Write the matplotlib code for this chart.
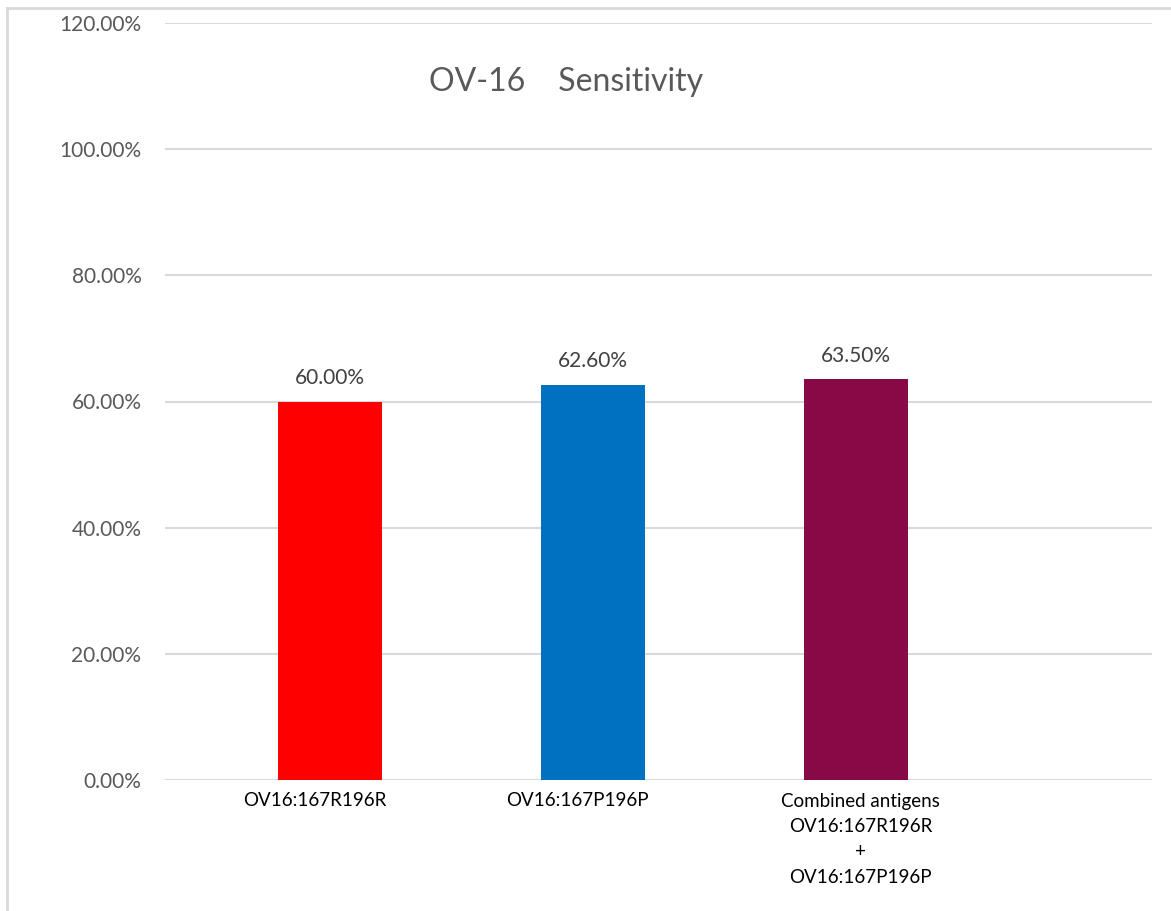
import matplotlib
matplotlib.use("Agg")
import matplotlib.pyplot as plt
from matplotlib.lines import Line2D
from matplotlib.ticker import FuncFormatter
from matplotlib.transforms import ScaledTranslation

categories = ["OV16:167R196R", "OV16:167P196P",
              "Combined antigens\nOV16:167R196R\n+\nOV16:167P196P"]
sensitivity = [60.00, 62.60, 63.50]
bar_colors = ["#FF0000", "#0070C0", "#870A46"]
y_ticks = [0, 20, 40, 60, 80, 100, 120]

plt.rcParams['font.family'] = ['Lato', 'DejaVu Sans']

fig = plt.figure(figsize=(11.71, 9.11), dpi=100)
ax = fig.add_axes([165 / 1171, 1 - 780 / 911, (1152 - 165) / 1171, (780 - 23) / 911])

x = list(range(len(categories)))
ax.bar(x, sensitivity, width=0.395, color=bar_colors, zorder=3)

for xi, v in zip(x, sensitivity):
    ax.text(xi, v + 2.2, f"{v:.2f}%", ha="center", va="bottom",
            fontsize=15, color="#404040")

ax.set_ylim(0, 120)
ax.set_xlim(-0.627, 3.126)
ax.set_yticks(y_ticks)
ax.yaxis.set_major_formatter(FuncFormatter(lambda v, _: f"{v:.2f}%"))
ax.set_xticks(x)
ax.set_xticklabels(categories, fontsize=13.5, color="black", linespacing=1.6)
ax.tick_params(axis="y", labelsize=15, labelcolor="#595959", length=0, pad=17)
ax.tick_params(axis="x", length=0, pad=9)
ax.grid(axis="y", color="#D9D9D9", linewidth=1.5, zorder=0)
for s in ax.spines.values():
    s.set_visible(False)

# small horizontal nudges of the category labels (in pixels)
label_shift_px = [-15, -15, 5]
for lbl, dx in zip(ax.get_xticklabels(), label_shift_px):
    lbl.set_transform(lbl.get_transform() + ScaledTranslation(dx / 100, 0, fig.dpi_scale_trans))

fig.text(0.483, 1 - 82 / 911, "OV-16    Sensitivity", ha="center", va="center",
         fontsize=23, color="#595959")

# outer chart frame (left and top edges)
fig.add_artist(Line2D([7 / 1171, 7 / 1171], [0, 1 - 8 / 911], transform=fig.transFigure,
                      color="#D9D9D9", linewidth=2))
fig.add_artist(Line2D([7 / 1171, 1], [1 - 8 / 911, 1 - 8 / 911], transform=fig.transFigure,
                      color="#D9D9D9", linewidth=2))

fig.savefig("out.png", dpi=100, facecolor="white")
